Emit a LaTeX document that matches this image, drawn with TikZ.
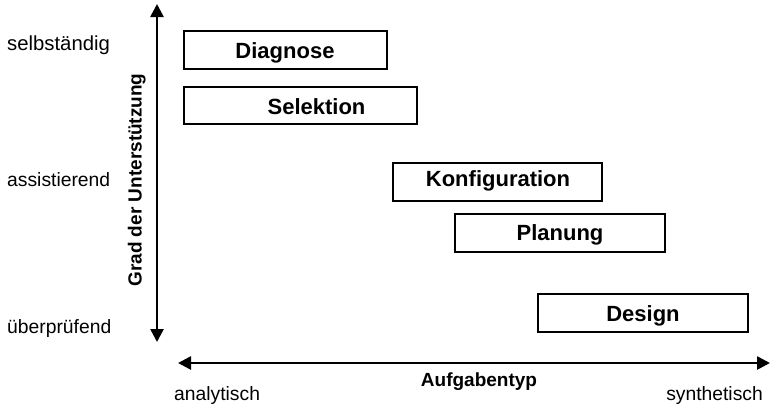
\documentclass[tikz,border=0pt]{standalone}
\usepackage{fontspec}
\setmainfont{Liberation Sans}
\usetikzlibrary{arrows.meta}
\begin{document}
\begin{tikzpicture}[x=1pt,y=-1pt,
  taskbox/.style={draw=black,line width=2.4pt,fill=white,inner sep=0pt},
  tasktext/.style={anchor=base,inner sep=0pt,font=\fontsize{22}{26}\selectfont\bfseries},
  scaletext/.style={inner sep=0pt,font=\fontsize{19.3}{23}\selectfont},
  axislabel/.style={inner sep=0pt,font=\fontsize{19}{23}\selectfont\bfseries},
  axis/.style={line width=2.6pt,{Triangle[length=13pt,width=13pt]}-{Triangle[length=13pt,width=13pt]}}]
\useasboundingbox (0,0) rectangle (771,405);

% axes
\coordinate (ytop) at (157,4);
\coordinate (ybot) at (157,342);
\coordinate (xleft) at (178,363);
\coordinate (xright) at (770,363);
\draw[axis] (ybot) -- (ytop);
\draw[axis] (xleft) -- (xright);

% axis captions
\node[axislabel,rotate=90,anchor=base] (ycap) at (141.5,180) {Grad der Unterstützung};
\node[axislabel,anchor=base] (xcap) at (479,386.7) {Aufgabentyp};

% scale labels, vertical
\node[scaletext,anchor=base west,font=\fontsize{20.3}{24}\selectfont] (s1) at (7,50) {selbständig};
\node[scaletext,anchor=base west] (s2) at (7,186.7) {assistierend};
\node[scaletext,anchor=base west] (s3) at (7,333.3) {überprüfend};

% scale labels, horizontal
\node[scaletext,anchor=base west] (h1) at (174,400) {analytisch};
\node[scaletext,anchor=base east] (h2) at (763,400) {synthetisch};

% task types
\node[taskbox,minimum width=203pt,minimum height=38pt] (diag) at (285.5,50) {};
\node[tasktext] (diagt) at (285,58.3) {Diagnose};

\node[taskbox,minimum width=233pt,minimum height=37pt] (sel) at (300.5,105.5) {};
\node[tasktext] (selt) at (316.5,114.3) {Selektion};

\node[taskbox,minimum width=209pt,minimum height=38pt] (konf) at (497.5,182) {};
\node[tasktext] (konft) at (498,186) {Konfiguration};

\node[taskbox,minimum width=210pt,minimum height=38pt] (plan) at (560,233) {};
\node[tasktext] (plant) at (560,240.7) {Planung};

\node[taskbox,minimum width=210pt,minimum height=38pt] (des) at (643,313) {};
\node[tasktext] (dest) at (643,321) {Design};
\end{tikzpicture}
\end{document}
